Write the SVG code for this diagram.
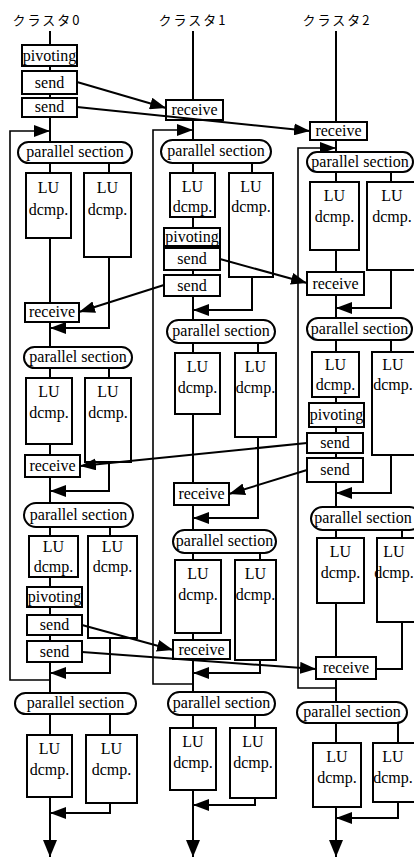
<svg xmlns="http://www.w3.org/2000/svg" width="414" height="862" viewBox="0 0 414 862">
<style>
.bx{fill:#fff;stroke:#000;stroke-width:2}
.ln{fill:none;stroke:#000;stroke-width:2}
.lp{fill:none;stroke:#000;stroke-width:1.6}
.t{font-family:"Liberation Serif","Times New Roman",serif;font-size:16px;text-anchor:middle;fill:#000}
.jp{font-family:"Noto Sans CJK JP","Noto Sans CJK SC",sans-serif;font-size:13px;text-anchor:middle;letter-spacing:2px;fill:#000}
</style>
<defs>
<marker id="ah" markerUnits="userSpaceOnUse" markerWidth="17" markerHeight="12" refX="16" refY="6" orient="auto"><path d="M0,0 L16,6 L0,12 z" fill="#000"/></marker>
<marker id="ad" markerUnits="userSpaceOnUse" markerWidth="17" markerHeight="14" refX="17" refY="7" orient="auto"><path d="M0,0 L17,7 L0,14 z" fill="#000"/></marker>
</defs>
<rect width="414" height="862" fill="#fff"/>
<g id="labels">
<text class="jp" x="47" y="25">クラスタ0</text>
<text class="jp" x="193" y="25">クラスタ1</text>
<text class="jp" x="337" y="25">クラスタ2</text>
</g>
<g id="connectors">
<path class="ln" d="M50,31 V857" marker-end="url(#ad)"/>
<path class="ln" d="M193,31 V857" marker-end="url(#ad)"/>
<path class="ln" d="M336,31 V857" marker-end="url(#ad)"/>
<path class="ln" d="M109,163 V173"/><path class="ln" d="M109,257 V328 H50" marker-end="url(#ah)"/>
<path class="ln" d="M109,368 V378"/><path class="ln" d="M109,462 V491 H50" marker-end="url(#ah)"/>
<path class="ln" d="M110,527 V536"/><path class="ln" d="M110,638 V673 H50" marker-end="url(#ah)"/>
<path class="ln" d="M110,714 V735"/><path class="ln" d="M110,803 V813 H50" marker-end="url(#ah)"/>
<path class="lp" d="M50,680 H10 V131 H50" marker-end="url(#ah)"/>
<path class="ln" d="M252,163 V173"/><path class="ln" d="M252,277 V310 H193" marker-end="url(#ah)"/>
<path class="ln" d="M258,343 V353"/><path class="ln" d="M258,437 V518 H193" marker-end="url(#ah)"/>
<path class="ln" d="M260,553 V560"/><path class="ln" d="M260,660 V673 H193" marker-end="url(#ah)"/>
<path class="ln" d="M255,715 V728"/><path class="ln" d="M255,798 V805 H193" marker-end="url(#ah)"/>
<path class="lp" d="M193,684 H153 V130 H193" marker-end="url(#ah)"/>
<path class="ln" d="M391,172 V182"/><path class="ln" d="M391,270 V308 H336" marker-end="url(#ah)"/>
<path class="ln" d="M391,340 V352"/><path class="ln" d="M391,455 V493 H336" marker-end="url(#ah)"/>
<path class="ln" d="M402,530 V538"/><path class="ln" d="M402,622 V669 H376"/>
<path class="ln" d="M398,723 V743"/><path class="ln" d="M398,802 V818 H336" marker-end="url(#ah)"/>
<path class="lp" d="M336,688 H298 V148 H336" marker-end="url(#ah)"/>
</g>
<g id="cluster0">
<g id="c0-pivot1"><rect class="bx" x="22" y="45" width="55" height="21"/><text class="t" x="49.5" y="61">pivoting</text></g>
<g id="c0-send1"><rect class="bx" x="22" y="71" width="55" height="23"/><text class="t" x="49.5" y="88">send</text></g>
<g id="c0-send2"><rect class="bx" x="22" y="98" width="55" height="19"/><text class="t" x="49.5" y="112">send</text></g>
<g id="c0-par1"><rect class="bx" x="18" y="142" width="114" height="21" rx="10.5"/><text class="t" x="75" y="157">parallel section</text></g>
<g id="c0-lu1a"><rect class="bx" x="26" y="173" width="45" height="65"/><text class="t" x="48.5" y="193">LU</text><text class="t" x="48.5" y="215">dcmp.</text></g>
<g id="c0-lu1b"><rect class="bx" x="84" y="173" width="47" height="84"/><text class="t" x="107.5" y="193">LU</text><text class="t" x="107.5" y="215">dcmp.</text></g>
<g id="c0-recv1"><rect class="bx" x="25" y="303" width="54" height="19"/><text class="t" x="52" y="317">receive</text></g>
<g id="c0-par2"><rect class="bx" x="24" y="347" width="108" height="21" rx="10.5"/><text class="t" x="78" y="362">parallel section</text></g>
<g id="c0-lu2a"><rect class="bx" x="26" y="378" width="46" height="66"/><text class="t" x="49" y="397">LU</text><text class="t" x="49" y="418">dcmp.</text></g>
<g id="c0-lu2b"><rect class="bx" x="85" y="378" width="46" height="84"/><text class="t" x="108" y="397">LU</text><text class="t" x="108" y="418">dcmp.</text></g>
<g id="c0-recv2"><rect class="bx" x="25" y="455" width="55" height="22"/><text class="t" x="52.5" y="471">receive</text></g>
<g id="c0-par3"><rect class="bx" x="24" y="503" width="109" height="24" rx="12"/><text class="t" x="78.5" y="520">parallel section</text></g>
<g id="c0-lu3a"><rect class="bx" x="29" y="536" width="49" height="41"/><text class="t" x="53.5" y="552">LU</text><text class="t" x="53.5" y="572">dcmp.</text></g>
<g id="c0-lu3b"><rect class="bx" x="88" y="536" width="49" height="102"/><text class="t" x="112.5" y="552">LU</text><text class="t" x="112.5" y="572">dcmp.</text></g>
<g id="c0-pivot2"><rect class="bx" x="27" y="587" width="55" height="20"/><text class="t" x="54.5" y="602">pivoting</text></g>
<g id="c0-send3"><rect class="bx" x="27" y="615" width="55" height="20"/><text class="t" x="54.5" y="630">send</text></g>
<g id="c0-send4"><rect class="bx" x="27" y="641" width="55" height="21"/><text class="t" x="54.5" y="657">send</text></g>
<g id="c0-par4"><rect class="bx" x="15" y="693" width="121" height="21" rx="10.5"/><text class="t" x="75.5" y="708">parallel section</text></g>
<g id="c0-lu4a"><rect class="bx" x="27" y="735" width="45" height="62"/><text class="t" x="49.5" y="754">LU</text><text class="t" x="49.5" y="775">dcmp.</text></g>
<g id="c0-lu4b"><rect class="bx" x="86" y="735" width="51" height="68"/><text class="t" x="111.5" y="754">LU</text><text class="t" x="111.5" y="775">dcmp.</text></g>
</g>
<g id="cluster1">
<g id="c1-recv1"><rect class="bx" x="166" y="100" width="57" height="20"/><text class="t" x="194.5" y="115">receive</text></g>
<g id="c1-par1"><rect class="bx" x="161" y="140" width="110" height="23" rx="11.5"/><text class="t" x="216" y="156">parallel section</text></g>
<g id="c1-lu1a"><rect class="bx" x="170" y="173" width="45" height="44"/><text class="t" x="192.5" y="192">LU</text><text class="t" x="192.5" y="212">dcmp.</text></g>
<g id="c1-lu1b"><rect class="bx" x="229" y="173" width="44" height="104"/><text class="t" x="251" y="192">LU</text><text class="t" x="251" y="212">dcmp.</text></g>
<g id="c1-pivot1"><rect class="bx" x="164" y="228" width="56" height="18"/><text class="t" x="192" y="242">pivoting</text></g>
<g id="c1-send1"><rect class="bx" x="164" y="248" width="56" height="22"/><text class="t" x="192" y="264">send</text></g>
<g id="c1-send2"><rect class="bx" x="164" y="275" width="56" height="21"/><text class="t" x="192" y="291">send</text></g>
<g id="c1-par2"><rect class="bx" x="167" y="320" width="108" height="23" rx="11.5"/><text class="t" x="221" y="336">parallel section</text></g>
<g id="c1-lu2a"><rect class="bx" x="175" y="353" width="45" height="61"/><text class="t" x="197.5" y="372">LU</text><text class="t" x="197.5" y="393">dcmp.</text></g>
<g id="c1-lu2b"><rect class="bx" x="235" y="353" width="41" height="84"/><text class="t" x="255.5" y="372">LU</text><text class="t" x="255.5" y="393">dcmp.</text></g>
<g id="c1-recv2"><rect class="bx" x="174" y="483" width="55" height="22"/><text class="t" x="201.5" y="499">receive</text></g>
<g id="c1-par3"><rect class="bx" x="173" y="530" width="103" height="23" rx="11.5"/><text class="t" x="224.5" y="546">parallel section</text></g>
<g id="c1-lu3a"><rect class="bx" x="175" y="560" width="46" height="73"/><text class="t" x="198" y="579">LU</text><text class="t" x="198" y="600">dcmp.</text></g>
<g id="c1-lu3b"><rect class="bx" x="235" y="560" width="41" height="100"/><text class="t" x="255.5" y="579">LU</text><text class="t" x="255.5" y="600">dcmp.</text></g>
<g id="c1-recv3"><rect class="bx" x="173" y="640" width="57" height="19"/><text class="t" x="201.5" y="655">receive</text></g>
<g id="c1-par4"><rect class="bx" x="168" y="692" width="107" height="23" rx="11.5"/><text class="t" x="221.5" y="708">parallel section</text></g>
<g id="c1-lu4a"><rect class="bx" x="170" y="728" width="46" height="62"/><text class="t" x="193" y="747">LU</text><text class="t" x="193" y="768">dcmp.</text></g>
<g id="c1-lu4b"><rect class="bx" x="230" y="728" width="46" height="70"/><text class="t" x="253" y="747">LU</text><text class="t" x="253" y="768">dcmp.</text></g>
</g>
<g id="cluster2">
<g id="c2-recv1"><rect class="bx" x="310" y="122" width="57" height="18"/><text class="t" x="338.5" y="136">receive</text></g>
<g id="c2-par1"><rect class="bx" x="307" y="152" width="106" height="20" rx="10"/><text class="t" x="360" y="167">parallel section</text></g>
<g id="c2-lu1a"><rect class="bx" x="310" y="182" width="49" height="68"/><text class="t" x="334.5" y="201">LU</text><text class="t" x="334.5" y="222">dcmp.</text></g>
<g id="c2-lu1b"><rect class="bx" x="367" y="182" width="52" height="88"/><text class="t" x="392" y="201">LU</text><text class="t" x="392" y="222">dcmp.</text></g>
<g id="c2-recv2"><rect class="bx" x="307" y="272" width="57" height="23"/><text class="t" x="335.5" y="289">receive</text></g>
<g id="c2-par2"><rect class="bx" x="307" y="318" width="105" height="22" rx="11"/><text class="t" x="359.5" y="334">parallel section</text></g>
<g id="c2-lu2a"><rect class="bx" x="312" y="352" width="47" height="45"/><text class="t" x="335.5" y="370">LU</text><text class="t" x="335.5" y="390">dcmp.</text></g>
<g id="c2-lu2b"><rect class="bx" x="372" y="352" width="50" height="103"/><text class="t" x="393" y="370">LU</text><text class="t" x="393" y="390">dcmp.</text></g>
<g id="c2-pivot1"><rect class="bx" x="309" y="403" width="55" height="24"/><text class="t" x="336.5" y="420">pivoting</text></g>
<g id="c2-send1"><rect class="bx" x="307" y="433" width="56" height="20"/><text class="t" x="335" y="448">send</text></g>
<g id="c2-send2"><rect class="bx" x="307" y="458" width="56" height="24"/><text class="t" x="335" y="475">send</text></g>
<g id="c2-par3"><rect class="bx" x="311" y="507" width="110" height="23" rx="11.5"/><text class="t" x="363" y="523">parallel section</text></g>
<g id="c2-lu3a"><rect class="bx" x="317" y="538" width="47" height="65"/><text class="t" x="340.5" y="557">LU</text><text class="t" x="340.5" y="578">dcmp.</text></g>
<g id="c2-lu3b"><rect class="bx" x="377" y="538" width="45" height="84"/><text class="t" x="394" y="557">LU</text><text class="t" x="394" y="578">dcmp.</text></g>
<g id="c2-recv3"><rect class="bx" x="316" y="657" width="60" height="22"/><text class="t" x="346" y="673">receive</text></g>
<g id="c2-par4"><rect class="bx" x="297" y="702" width="110" height="21" rx="10.5"/><text class="t" x="352" y="717">parallel section</text></g>
<g id="c2-lu4a"><rect class="bx" x="313" y="743" width="48" height="64"/><text class="t" x="337" y="762">LU</text><text class="t" x="337" y="783">dcmp.</text></g>
<g id="c2-lu4b"><rect class="bx" x="373" y="743" width="48" height="59"/><text class="t" x="393" y="762">LU</text><text class="t" x="393" y="783">dcmp.</text></g>
</g>
<g id="messages">
<path class="ln" d="M77,82 L166,108" marker-end="url(#ah)"/>
<path class="ln" d="M77,107 L310,131" marker-end="url(#ah)"/>
<path class="ln" d="M220,259 L307,283" marker-end="url(#ah)"/>
<path class="ln" d="M164,285 L79,312" marker-end="url(#ah)"/>
<path class="ln" d="M307,443 L80,466" marker-end="url(#ah)"/>
<path class="ln" d="M307,470 L229,494" marker-end="url(#ah)"/>
<path class="ln" d="M82,625 L173,650" marker-end="url(#ah)"/>
<path class="ln" d="M82,652 L316,669" marker-end="url(#ah)"/>
</g>
</svg>
